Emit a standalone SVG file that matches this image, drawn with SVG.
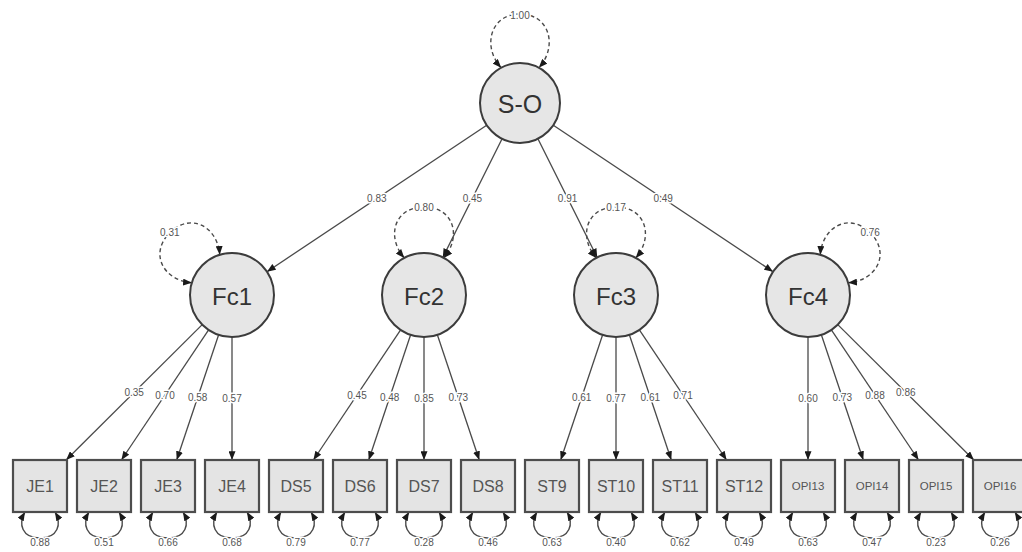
<svg xmlns="http://www.w3.org/2000/svg" xmlns:xlink="http://www.w3.org/1999/xlink" width="1022" height="552" viewBox="0 0 1022 552">
  <style>
    .edge { fill: none; stroke: #4a4a4a; stroke-width: 1.3; marker-end: url(#arr); }
    .var { fill: none; stroke: #4a4a4a; stroke-width: 1.4; stroke-dasharray: 4 3; marker-start: url(#arr2); marker-end: url(#arr2); }
    .res { fill: none; stroke: #4a4a4a; stroke-width: 1.4; marker-start: url(#arr2); marker-end: url(#arr2); }
    .lab { font-family: "Liberation Sans", Arial, sans-serif; font-size: 10px; fill: #555; text-anchor: middle; dominant-baseline: central; stroke: #fff; stroke-width: 3; paint-order: stroke; stroke-linejoin: round; }
    .lat circle { fill: #e6e6e6; stroke: #3c3c3c; stroke-width: 2; }
    .lat text { font-family: "Liberation Sans", Arial, sans-serif; font-size: 24px; fill: #333; text-anchor: middle; dominant-baseline: central; }
    .man rect { fill: #e4e4e4; stroke: #4d4d4d; stroke-width: 2.2; }
    .man text { font-family: "Liberation Sans", Arial, sans-serif; font-size: 16px; fill: #555; text-anchor: middle; dominant-baseline: central; }
    .man text.sm { font-size: 11.5px; }
  </style>
  <defs>
    <marker id="arr" markerUnits="userSpaceOnUse" viewBox="0 0 10 8" markerWidth="9" markerHeight="7" refX="10" refY="4" orient="auto">
      <path d="M0,0 L10,4 L0,8 z" fill="#1a1a1a"/>
    </marker>
    <marker id="arr2" markerUnits="userSpaceOnUse" viewBox="0 0 10 8" markerWidth="9" markerHeight="7" refX="10" refY="4" orient="auto-start-reverse">
      <path d="M0,0 L10,4 L0,8 z" fill="#1a1a1a"/>
    </marker>
    <!-- variance loop above a latent of radius 42, centred on the origin -->
    <path id="loopL" d="M-19.7,-37.1 C-38,-58 -30,-88 0,-88 C30,-88 38,-58 19.7,-37.1"/>
    <!-- residual loop under an indicator box, origin at bottom edge centre -->
    <path id="loopR" d="M-15,0 C-22,12 -18,26 0,26 C18,26 22,12 15,0"/>
  </defs>

  <g id="connectors">
    <!-- second-order loadings -->
    <line class="edge" x1="486.7" y1="125.2" x2="267" y2="271.7"/>
    <line class="edge" x1="502.1" y1="138.8" x2="442.8" y2="257.4"/>
    <line class="edge" x1="537.9" y1="138.8" x2="597.2" y2="257.4"/>
    <line class="edge" x1="553.3" y1="125.2" x2="773" y2="271.7"/>

    <!-- Fc1 indicators -->
    <line class="edge" x1="202.22" y1="324.6" x2="66.14" y2="460"/>
    <line class="edge" x1="208.62" y1="329.9" x2="121.42" y2="460"/>
    <line class="edge" x1="218.65" y1="334.8" x2="176.71" y2="460"/>
    <line class="edge" x1="232" y1="337" x2="232" y2="460"/>
    <!-- Fc2 indicators -->
    <line class="edge" x1="400.62" y1="329.9" x2="313.42" y2="460"/>
    <line class="edge" x1="410.65" y1="334.8" x2="368.71" y2="460"/>
    <line class="edge" x1="424" y1="337" x2="424" y2="460"/>
    <line class="edge" x1="437.35" y1="334.8" x2="479.29" y2="460"/>
    <!-- Fc3 indicators -->
    <line class="edge" x1="602.65" y1="334.8" x2="560.71" y2="460"/>
    <line class="edge" x1="616" y1="337" x2="616" y2="460"/>
    <line class="edge" x1="629.35" y1="334.8" x2="671.29" y2="460"/>
    <line class="edge" x1="639.38" y1="329.9" x2="726.58" y2="460"/>
    <!-- Fc4 indicators -->
    <line class="edge" x1="808" y1="337" x2="808" y2="460"/>
    <line class="edge" x1="821.35" y1="334.8" x2="863.29" y2="460"/>
    <line class="edge" x1="831.38" y1="329.9" x2="918.58" y2="460"/>
    <line class="edge" x1="837.78" y1="324.6" x2="973.86" y2="460"/>

    <!-- latent variances -->
    <path class="var" d="M501.2,67.7 C482,47 490,14 520,14 C550,14 558,47 538.8,67.7"/>
    <use xlink:href="#loopL" class="var" transform="translate(232,295) rotate(-45)"/>
    <use xlink:href="#loopL" class="var" transform="translate(424,295)"/>
    <use xlink:href="#loopL" class="var" transform="translate(616,295)"/>
    <use xlink:href="#loopL" class="var" transform="translate(808,295) rotate(45)"/>

    <!-- residual variances -->
    <use xlink:href="#loopR" class="res" transform="translate(40,512)"/>
    <use xlink:href="#loopR" class="res" transform="translate(104,512)"/>
    <use xlink:href="#loopR" class="res" transform="translate(168,512)"/>
    <use xlink:href="#loopR" class="res" transform="translate(232,512)"/>
    <use xlink:href="#loopR" class="res" transform="translate(296,512)"/>
    <use xlink:href="#loopR" class="res" transform="translate(360,512)"/>
    <use xlink:href="#loopR" class="res" transform="translate(424,512)"/>
    <use xlink:href="#loopR" class="res" transform="translate(488,512)"/>
    <use xlink:href="#loopR" class="res" transform="translate(552,512)"/>
    <use xlink:href="#loopR" class="res" transform="translate(616,512)"/>
    <use xlink:href="#loopR" class="res" transform="translate(680,512)"/>
    <use xlink:href="#loopR" class="res" transform="translate(744,512)"/>
    <use xlink:href="#loopR" class="res" transform="translate(808,512)"/>
    <use xlink:href="#loopR" class="res" transform="translate(872,512)"/>
    <use xlink:href="#loopR" class="res" transform="translate(936,512)"/>
    <use xlink:href="#loopR" class="res" transform="translate(1000,512)"/>

    <!-- edge labels -->
    <text class="lab" x="376.8" y="198.5">0.83</text>
    <text class="lab" x="472.4" y="198.1">0.45</text>
    <text class="lab" x="567.6" y="198.1">0.91</text>
    <text class="lab" x="663.2" y="198.5">0.49</text>

    <text class="lab" x="134.2" y="392.3">0.35</text>
    <text class="lab" x="165" y="395">0.70</text>
    <text class="lab" x="197.7" y="397.4">0.58</text>
    <text class="lab" x="232" y="398.5">0.57</text>
    <text class="lab" x="357" y="395">0.45</text>
    <text class="lab" x="389.7" y="397.4">0.48</text>
    <text class="lab" x="424" y="398.5">0.85</text>
    <text class="lab" x="458.3" y="397.4">0.73</text>
    <text class="lab" x="581.7" y="397.4">0.61</text>
    <text class="lab" x="616" y="398.5">0.77</text>
    <text class="lab" x="650.3" y="397.4">0.61</text>
    <text class="lab" x="683" y="395">0.71</text>
    <text class="lab" x="808" y="398.5">0.60</text>
    <text class="lab" x="842.3" y="397.4">0.73</text>
    <text class="lab" x="875" y="395">0.88</text>
    <text class="lab" x="905.8" y="392.3">0.86</text>

    <!-- variance labels -->
    <text class="lab" x="520" y="15">1.00</text>
    <text class="lab" x="169.8" y="232.8">0.31</text>
    <text class="lab" x="424" y="207">0.80</text>
    <text class="lab" x="616" y="207">0.17</text>
    <text class="lab" x="870.2" y="232.8">0.76</text>

    <text class="lab" x="40" y="542">0.88</text>
    <text class="lab" x="104" y="542">0.51</text>
    <text class="lab" x="168" y="542">0.66</text>
    <text class="lab" x="232" y="542">0.68</text>
    <text class="lab" x="296" y="542">0.79</text>
    <text class="lab" x="360" y="542">0.77</text>
    <text class="lab" x="424" y="542">0.28</text>
    <text class="lab" x="488" y="542">0.46</text>
    <text class="lab" x="552" y="542">0.63</text>
    <text class="lab" x="616" y="542">0.40</text>
    <text class="lab" x="680" y="542">0.62</text>
    <text class="lab" x="744" y="542">0.49</text>
    <text class="lab" x="808" y="542">0.63</text>
    <text class="lab" x="872" y="542">0.47</text>
    <text class="lab" x="936" y="542">0.23</text>
    <text class="lab" x="1000" y="542">0.26</text>
  </g>

  <!-- latent factors -->
  <g id="SO" class="lat"><circle cx="520" cy="103" r="40"/><text x="520" y="104" style="font-size:25px">S-O</text></g>
  <g id="Fc1" class="lat"><circle cx="232" cy="295" r="42"/><text x="232" y="296">Fc1</text></g>
  <g id="Fc2" class="lat"><circle cx="424" cy="295" r="42"/><text x="424" y="296">Fc2</text></g>
  <g id="Fc3" class="lat"><circle cx="616" cy="295" r="42"/><text x="616" y="296">Fc3</text></g>
  <g id="Fc4" class="lat"><circle cx="808" cy="295" r="42"/><text x="808" y="296">Fc4</text></g>

  <!-- observed indicators -->
  <g id="JE1" class="man"><rect x="13" y="460" width="54" height="52"/><text x="40" y="486">JE1</text></g>
  <g id="JE2" class="man"><rect x="77" y="460" width="54" height="52"/><text x="104" y="486">JE2</text></g>
  <g id="JE3" class="man"><rect x="141" y="460" width="54" height="52"/><text x="168" y="486">JE3</text></g>
  <g id="JE4" class="man"><rect x="205" y="460" width="54" height="52"/><text x="232" y="486">JE4</text></g>
  <g id="DS5" class="man"><rect x="269" y="460" width="54" height="52"/><text x="296" y="486">DS5</text></g>
  <g id="DS6" class="man"><rect x="333" y="460" width="54" height="52"/><text x="360" y="486">DS6</text></g>
  <g id="DS7" class="man"><rect x="397" y="460" width="54" height="52"/><text x="424" y="486">DS7</text></g>
  <g id="DS8" class="man"><rect x="461" y="460" width="54" height="52"/><text x="488" y="486">DS8</text></g>
  <g id="ST9" class="man"><rect x="525" y="460" width="54" height="52"/><text x="552" y="486">ST9</text></g>
  <g id="ST10" class="man"><rect x="589" y="460" width="54" height="52"/><text x="616" y="486">ST10</text></g>
  <g id="ST11" class="man"><rect x="653" y="460" width="54" height="52"/><text x="680" y="486">ST11</text></g>
  <g id="ST12" class="man"><rect x="717" y="460" width="54" height="52"/><text x="744" y="486">ST12</text></g>
  <g id="OPI13" class="man"><rect x="781" y="460" width="54" height="52"/><text class="sm" x="808" y="486">OPI13</text></g>
  <g id="OPI14" class="man"><rect x="845" y="460" width="54" height="52"/><text class="sm" x="872" y="486">OPI14</text></g>
  <g id="OPI15" class="man"><rect x="909" y="460" width="54" height="52"/><text class="sm" x="936" y="486">OPI15</text></g>
  <g id="OPI16" class="man"><rect x="973" y="460" width="54" height="52"/><text class="sm" x="1000" y="486">OPI16</text></g>
</svg>
